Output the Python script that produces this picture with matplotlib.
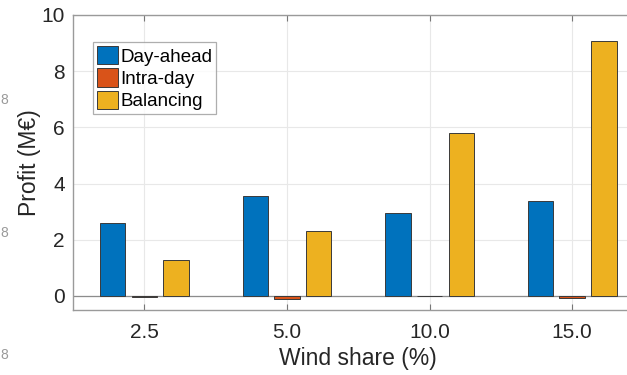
import numpy as np
import matplotlib
matplotlib.use("Agg")
import matplotlib.pyplot as plt

categories = ["2.5", "5.0", "10.0", "15.0"]
day_ahead = [2.59, 3.54, 2.95, 3.37]
intra_day = [-0.02, -0.11, -0.01, -0.07]
balancing = [1.29, 2.31, 5.81, 9.07]

series = [("Day-ahead", day_ahead, "#0072BD"),
          ("Intra-day", intra_day, "#D95319"),
          ("Balancing", balancing, "#EDB120")]

plt.rcParams["font.family"] = ["Liberation Sans", "DejaVu Sans"]

fig = plt.figure(figsize=(6.27, 3.75), dpi=100)
W, H = 627, 375
left, right, top, bottom = 73, 643.5, 15, 310
ax = fig.add_axes([left / W, 1 - bottom / H, (right - left) / W, (bottom - top) / H])

x = np.arange(1, len(categories) + 1)
offsets = [-0.222, 0.0, 0.222]
bw = 0.178
for (name, vals, col), off in zip(series, offsets):
    ax.bar(x + off, vals, bw, color=col, edgecolor="#3a3a3a", linewidth=0.7,
           label=name, zorder=3)

ax.axhline(0, color="#8c8c8c", linewidth=0.9, zorder=2)

ax.set_xlim(0.5, 4.5)
ax.set_ylim(-0.5, 10)
ax.set_xticks(x)
ax.set_xticklabels(categories)
ax.set_yticks([0, 2, 4, 6, 8, 10])
ax.grid(True, color="#e8e8e8", linewidth=0.8, zorder=0)
ax.set_axisbelow(True)

for s in ax.spines.values():
    s.set_color("#9a9a9a")
    s.set_linewidth(1.0)

ax.tick_params(axis="both", direction="in", length=4, width=0.8, color="#777777",
               labelsize=15, labelcolor="#262626", top=True, right=False)
ax.tick_params(axis="y", length=0, pad=6)
ax.tick_params(axis="x", pad=9)

ax.set_xlabel("Wind share (%)", fontsize=16.5, color="#262626", labelpad=4)
ax.set_ylabel("Profit (M€)", fontsize=16.5, color="#262626", labelpad=0)

leg = ax.legend(loc="upper left", bbox_to_anchor=(0.035, 0.908), fontsize=13.5,
                frameon=True, fancybox=False, handlelength=1.15, handleheight=1.15,
                handletextpad=0.1, labelspacing=0.15, borderpad=0.2,
                borderaxespad=0)
leg.get_frame().set_edgecolor("#9a9a9a")
leg.get_frame().set_linewidth(0.9)

# glyphs along the left margin
for yy in [100, 233, 355]:
    fig.text(0.5 / W, 1 - yy / H, "8", fontsize=10, color="#9a9a9a",
             ha="left", va="center")

fig.savefig("out.png", dpi=100)
